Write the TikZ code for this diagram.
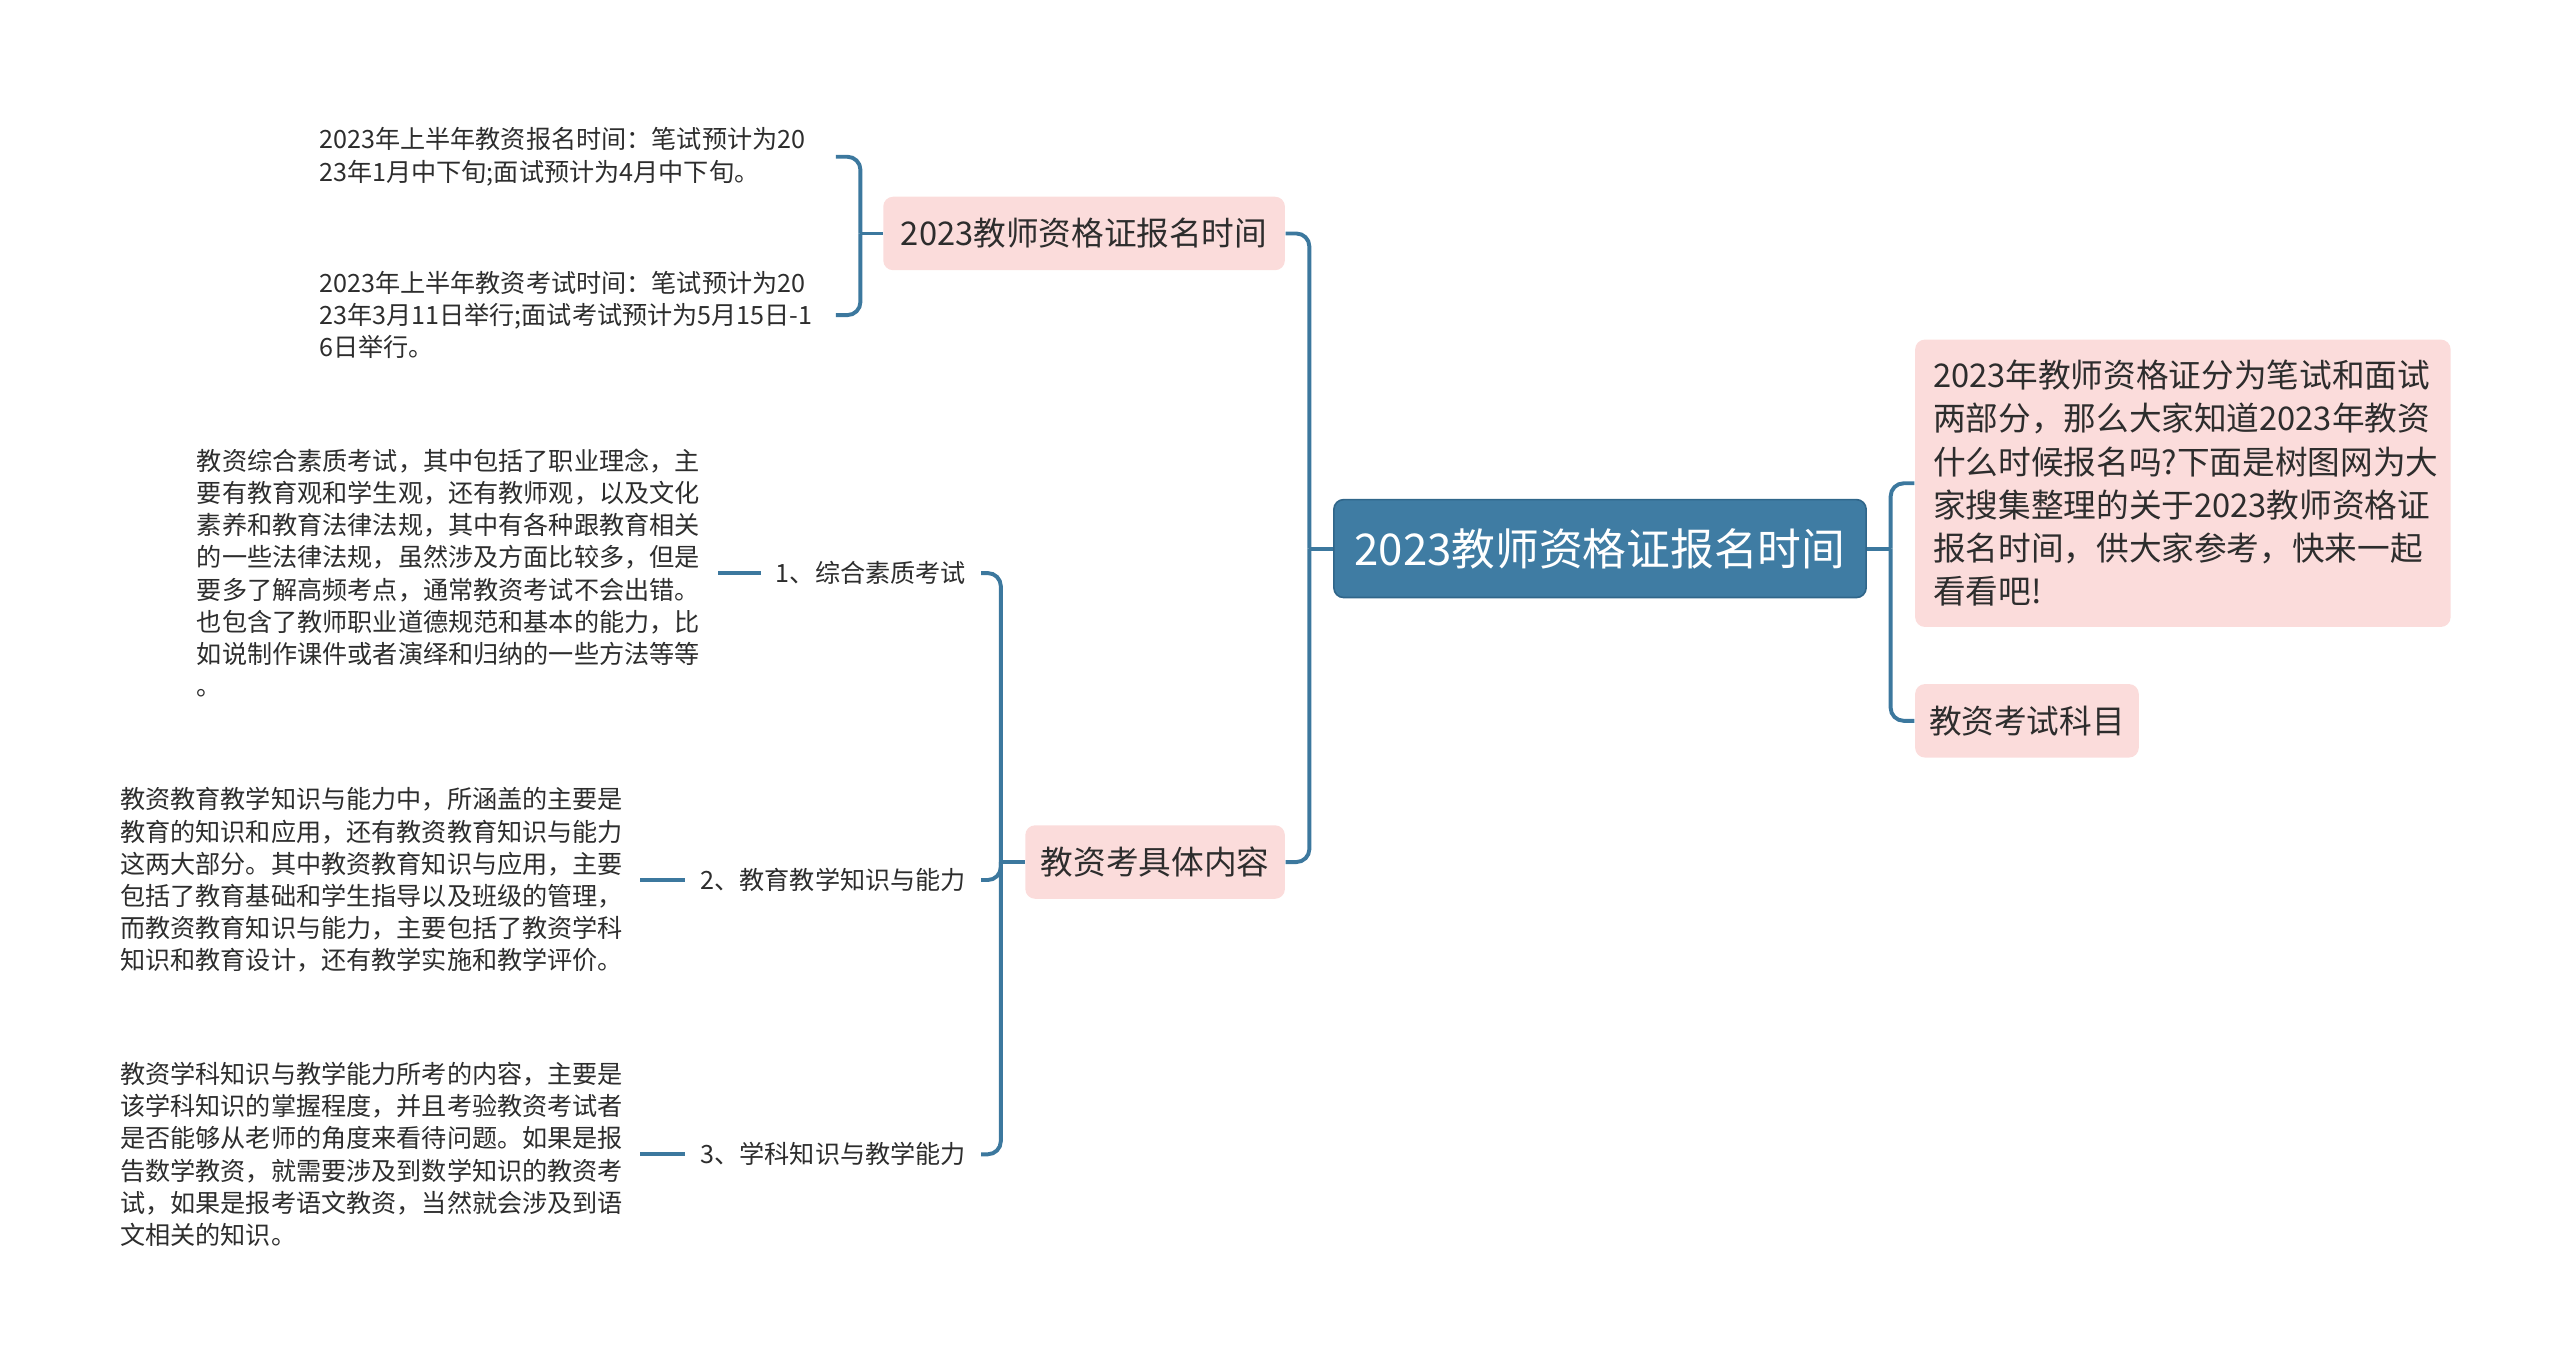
\documentclass[tikz,border=0pt]{standalone}
\usepackage{fontspec}
\setmainfont{Noto Sans CJK SC}
\usetikzlibrary{positioning}
\definecolor{shuBlue}{RGB}{63,124,163}
\definecolor{shuBlueDark}{RGB}{48,102,138}
\definecolor{shuLine}{RGB}{60,120,158}
\definecolor{shuPink}{RGB}{251,220,219}
\definecolor{shuText}{RGB}{45,45,45}
\tikzset{
  mroot/.style ={rectangle, rounded corners=3pt, fill=shuBlue, draw=shuBlueDark,
                 line width=0.5pt, text=white, inner sep=0pt,
                 minimum width=163pt, minimum height=30pt,
                 font=\fontsize{13.4}{16}\selectfont},
  mtopic/.style={rectangle, rounded corners=3pt, fill=shuPink, text=shuText,
                 inner sep=0pt, minimum height=22.5pt,
                 font=\fontsize{10}{12}\selectfont},
  mdesc/.style ={mtopic, text width=153pt, align=left, inner xsep=5.5pt,
                 minimum height=88pt, font=\fontsize{10}{13.25}\selectfont},
  mleaf/.style ={text=shuText, align=left, inner sep=0pt,
                 font=\fontsize{7.7}{9.85}\selectfont},
  mlabel/.style={text=shuText, inner xsep=4.5pt, inner ysep=1pt,
                 font=\fontsize{7.7}{9.3}\selectfont},
  mline/.style ={line width=1.2pt, shuLine, rounded corners=4pt},
}

\begin{document}
\begin{tikzpicture}[x=0.5pt, y=-0.5pt]
  \useasboundingbox (0,0) rectangle (1568,840);

  % ---- root and its two sides ---------------------------------------------
  \node[mroot] (root) at (980,336) {2023教师资格证报名时间};

  \node[mdesc] (desc) at (1337,296) {2023年教师资格证分为笔试和面试\\
    两部分，那么大家知道2023年教资\\
    什么时候报名吗?下面是树图网为大\\
    家搜集整理的关于2023教师资格证\\
    报名时间，供大家参考，快来一起\\
    看看吧!};
  \node[mtopic, minimum width=68.5pt] (subj) at (1241.5,441.5) {教资考试科目};

  \node[mtopic, minimum width=123pt]  (regtime) at (664,143) {2023教师资格证报名时间};
  \node[mtopic, minimum width=79.5pt] (content) at (707.5,528) {教资考具体内容};

  \coordinate (rj) at (1158,336);
  \coordinate (lj) at (802,336);
  \draw[mline] (root.east) -- (rj);
  \draw[mline] (root.west) -- (lj);
  \foreach \n in {desc,subj} {
    \draw[mline] (\n.west) -| (rj);
  }
  \foreach \n in {regtime,content} {
    \draw[mline] (\n.east) -| (lj);
  }

  % ---- registration time: two notes ---------------------------------------
  \node[mleaf, anchor=east, text width=158pt] (t1) at (512,96)
    {2023年上半年教资报名时间：笔试预计为20\\
     23年1月中下旬;面试预计为4月中下旬。};
  \node[mleaf, anchor=east, text width=158pt] (t2) at (512,193)
    {2023年上半年教资考试时间：笔试预计为20\\
     23年3月11日举行;面试考试预计为5月15日-1\\
     6日举行。};

  \coordinate (sj1) at (527,143);
  \draw[mline] (regtime.west) -- (sj1);
  \foreach \n in {t1,t2} {
    \draw[mline] (\n.east) -| (sj1);
  }

  % ---- exam content: three subjects ---------------------------------------
  \node[mlabel, anchor=east] (k1) at (601,351) {1、综合素质考试};
  \node[mlabel, anchor=east] (k2) at (601,539) {2、教育教学知识与能力};
  \node[mlabel, anchor=east] (k3) at (601,707) {3、学科知识与教学能力};

  \node[mleaf, anchor=east, text width=159.5pt] (d1) at (440,351)
    {教资综合素质考试，其中包括了职业理念，主\\
     要有教育观和学生观，还有教师观，以及文化\\
     素养和教育法律法规，其中有各种跟教育相关\\
     的一些法律法规，虽然涉及方面比较多，但是\\
     要多了解高频考点，通常教资考试不会出错。\\
     也包含了教师职业道德规范和基本的能力，比\\
     如说制作课件或者演绎和归纳的一些方法等等\\
     。};
  \node[mleaf, anchor=east, text width=159pt] (d2) at (392,539)
    {教资教育教学知识与能力中，所涵盖的主要是\\
     教育的知识和应用，还有教资教育知识与能力\\
     这两大部分。其中教资教育知识与应用，主要\\
     包括了教育基础和学生指导以及班级的管理，\\
     而教资教育知识与能力，主要包括了教资学科\\
     知识和教育设计，还有教学实施和教学评价。};
  \node[mleaf, anchor=east, text width=159pt] (d3) at (392,707)
    {教资学科知识与教学能力所考的内容，主要是\\
     该学科知识的掌握程度，并且考验教资考试者\\
     是否能够从老师的角度来看待问题。如果是报\\
     告数学教资，就需要涉及到数学知识的教资考\\
     试，如果是报考语文教资，当然就会涉及到语\\
     文相关的知识。};

  \coordinate (sj2) at (613,528);
  \draw[mline] (content.west) -- (sj2);
  \foreach \i in {1,2,3} {
    \draw[mline] (d\i.east) -- (k\i.west);
    \draw[mline] (k\i.east) -| (sj2);
  }
\end{tikzpicture}
\end{document}
